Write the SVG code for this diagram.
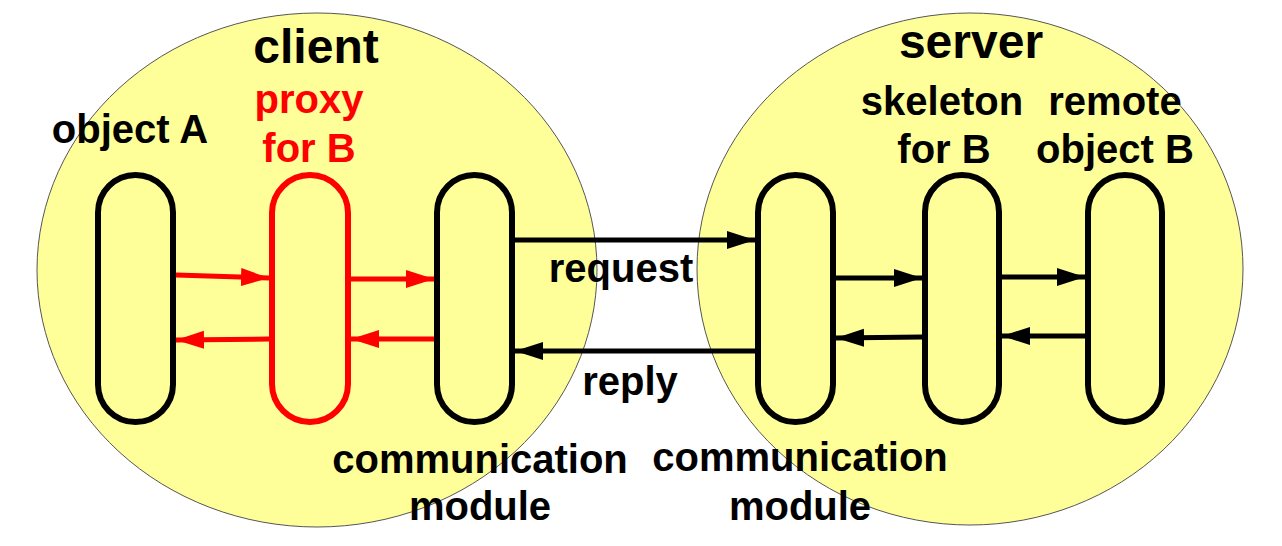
<svg xmlns="http://www.w3.org/2000/svg" width="1282" height="546" viewBox="0 0 1282 546">
<style>
.t{font-family:"Liberation Sans",Arial,sans-serif;font-weight:bold;font-size:40px;fill:#000;text-anchor:middle}
.big{font-size:48px}
.red{fill:#FF0000}
.host{fill:#FFFF99;stroke:#555;stroke-width:1}
.cap{fill:none;stroke:#000;stroke-width:6}
.capr{fill:none;stroke:#FF0000;stroke-width:6}
.lk{stroke:#000;stroke-width:5;fill:none}
.lr{stroke:#FF0000;stroke-width:5;fill:none}
</style>
<defs>
<marker id="ak" markerUnits="userSpaceOnUse" markerWidth="29" markerHeight="19" refX="28" refY="9" orient="auto"><path d="M0,0 L28,9 L0,18 z" fill="#000"/></marker>
<marker id="ar" markerUnits="userSpaceOnUse" markerWidth="29" markerHeight="19" refX="28" refY="9" orient="auto"><path d="M0,0 L28,9 L0,18 z" fill="#FF0000"/></marker>
</defs>
<rect width="1282" height="546" fill="#fff"/>
<g id="client">
<ellipse class="host" cx="317" cy="270" rx="280" ry="257"/>
<text class="t big" x="316" y="63">client</text>
</g>
<g id="server">
<ellipse class="host" cx="970" cy="269" rx="273" ry="256"/>
<text class="t big" x="971" y="58">server</text>
</g>
<g id="objectA">
<rect class="cap" x="98" y="175" width="75" height="247" rx="37.5"/>
<text class="t" x="130" y="143">object A</text>
</g>
<g id="proxyB">
<rect class="capr" x="272" y="175" width="76" height="247" rx="38"/>
<text class="t red" x="309" y="113">proxy</text>
<text class="t red" x="309" y="162">for B</text>
</g>
<g id="commClient">
<rect class="cap" x="437" y="175" width="75" height="247" rx="37.5"/>
<text class="t" x="480" y="473">communication</text>
<text class="t" x="480" y="520">module</text>
</g>
<g id="commServer">
<rect class="cap" x="758" y="175" width="75" height="247" rx="37.5"/>
<text class="t" x="800" y="471">communication</text>
<text class="t" x="800" y="520">module</text>
</g>
<g id="skeletonB">
<rect class="cap" x="925" y="175" width="74" height="247" rx="37"/>
<text class="t" x="942" y="115">skeleton</text>
<text class="t" x="944" y="163">for B</text>
</g>
<g id="remoteB">
<rect class="cap" x="1088" y="175" width="74" height="247" rx="37"/>
<text class="t" x="1115" y="115">remote</text>
<text class="t" x="1115" y="163">object B</text>
</g>
<g id="connectors">
<line class="lr" x1="176" y1="275" x2="269" y2="278" marker-end="url(#ar)"/>
<line class="lr" x1="351" y1="279" x2="434" y2="279" marker-end="url(#ar)"/>
<line class="lr" x1="269" y1="339" x2="176" y2="340" marker-end="url(#ar)"/>
<line class="lr" x1="434" y1="339" x2="351" y2="339" marker-end="url(#ar)"/>
<line class="lk" x1="515" y1="240" x2="755" y2="240" marker-end="url(#ak)"/>
<line class="lk" x1="761" y1="351" x2="515" y2="351" marker-end="url(#ak)"/>
<line class="lk" x1="836" y1="278" x2="922" y2="278" marker-end="url(#ak)"/>
<line class="lk" x1="1002" y1="277" x2="1085" y2="277" marker-end="url(#ak)"/>
<line class="lk" x1="922" y1="337" x2="836" y2="338" marker-end="url(#ak)"/>
<line class="lk" x1="1085" y1="336" x2="1002" y2="336" marker-end="url(#ak)"/>
<text class="t" x="621" y="282">request</text>
<text class="t" x="630" y="395">reply</text>
</g>
</svg>
